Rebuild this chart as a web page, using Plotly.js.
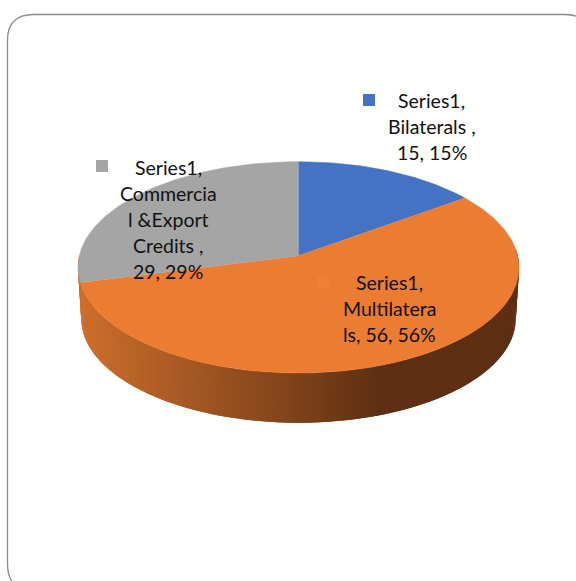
<!DOCTYPE html>
<html>
<head>
<meta charset="utf-8">
<script src="https://cdn.plot.ly/plotly-3.0.1.min.js"></script>
<style>html,body{margin:0;padding:0;background:#fff;overflow:hidden}</style>
</head>
<body>
<div id="chart" style="width:576px;height:581px"></div>
<script>
// Funding sources, in the order the slices run clockwise from twelve o'clock.
const categories = ["Bilaterals", "Multilaterals", "Commercial &Export Credits"];
const values = [15, 56, 29];
const seriesName = "Series1";
const faceColors = ["#4472C4", "#EC7C31", "#A5A5A5"];
const keyColors = ["#4472C4", "#EE8038", "#A5A5A5"];

// Wrapped label text; the value line is appended from the data below.
const wrappedNames = [["Bilaterals ,"], ["Multilatera"], ["Commercia", "l &Export", "Credits ,"]];
const valuePrefix = ["", "ls, ", ""];

const labelCentre = [[431.5, 100.5], [389, 282.5], [168, 167]];
const keyCentre = [[369, 100], [323, 282], [102, 166]];

// Perspective disc: apex position, half axes and foreshortening.
const disc = {cx: 298.5, cy: 255.7, a: 219.2, b: 104.4, k: 0.1105};
const wall = {scale: 0.985, drop: 51.4, from: [80, "#CB6E2C"], to: [375, "#5E2F12"]};

const total = values.reduce((s, v) => s + v, 0);

function project(deg, scale, drop) {
  const t = deg * Math.PI / 180, u = Math.sin(t), v = Math.cos(t), w = 1 + disc.k * v;
  return [disc.cx + scale * disc.a * u / w, disc.cy + drop - scale * disc.b * v / w];
}
function rgb(hex) { return [1, 3, 5].map(i => parseInt(hex.substr(i, 2), 16)); }
function wallColor(x) {
  const f = Math.min(1, Math.max(0, (x - wall.from[0]) / (wall.to[0] - wall.from[0])));
  const a = rgb(wall.from[1]), b = rgb(wall.to[1]);
  return "rgb(" + a.map((c, i) => Math.round(c + (b[i] - c) * f)).join(",") + ")";
}

const traces = [];

// Side wall of the disc: overlapping strips, each painted over the last, so no seams show.
for (let d = 86; d < 270; d += 1) {
  const p = [project(d, 1, 0), project(d + 2, 1, 0), project(d + 2, wall.scale, wall.drop), project(d, wall.scale, wall.drop)];
  const col = wallColor(p[1][0]);
  traces.push({
    type: "scatter", mode: "lines", x: p.map(q => q[0]), y: p.map(q => q[1]),
    fill: "toself", fillcolor: col, line: {width: 0}, hoverinfo: "skip", showlegend: false
  });
}

// Top faces of the slices.
let running = 0;
values.forEach((val, i) => {
  const start = running / total * 360, end = (running + val) / total * 360;
  running += val;
  const xs = [disc.cx], ys = [disc.cy];
  for (let d = start; d <= end + 1e-6; d += (end - start) / Math.ceil(end - start)) {
    const q = project(d, 1, 0);
    xs.push(q[0]); ys.push(q[1]);
  }
  traces.push({
    type: "scatter", mode: "lines", x: xs, y: ys, fill: "toself",
    fillcolor: faceColors[i], line: {color: faceColors[i], width: 0.5},
    name: categories[i], hoverinfo: "name", showlegend: false
  });
});

// Legend keys that sit beside each data label.
traces.push({
  type: "scatter", mode: "markers",
  x: keyCentre.map(k => k[0]), y: keyCentre.map(k => k[1]),
  marker: {symbol: "square", size: 12, color: keyColors}, hoverinfo: "skip", showlegend: false
});

// Data labels, one annotation per wrapped line for the tight leading.
const annotations = [];
values.forEach((val, i) => {
  const pct = Math.round(val / total * 100);
  const lines = [seriesName + ","].concat(wrappedNames[i], [valuePrefix[i] + val + ", " + pct + "%"]);
  lines.forEach((text, n) => {
    annotations.push({
      text, x: labelCentre[i][0], y: labelCentre[i][1] + n * 26, xref: "x", yref: "y",
      xanchor: "center", yanchor: "middle", showarrow: false,
      font: {family: "Lato, 'Open Sans', sans-serif", size: 19.5, color: "#111111"}
    });
  });
});

// Rounded card behind the chart; it runs past the right and bottom edges.
const L = 7.5, T = 14.5, R = 591, B = 590, r = 26;
const card = `M${L + r},${T} L${R - r},${T} Q${R},${T} ${R},${T + r} L${R},${B - r} Q${R},${B} ${R - r},${B} L${L + r},${B} Q${L},${B} ${L},${B - r} L${L},${T + r} Q${L},${T} ${L + r},${T} Z`;

const hidden = {visible: false, fixedrange: true};
Plotly.newPlot("chart", traces, {
  width: 576, height: 581,
  margin: {l: 0, r: 0, t: 0, b: 0},
  paper_bgcolor: "#ffffff", plot_bgcolor: "#ffffff",
  xaxis: Object.assign({range: [0, 576]}, hidden),
  yaxis: Object.assign({range: [581, 0]}, hidden),
  showlegend: false,
  annotations,
  shapes: [{type: "path", path: card, xref: "x", yref: "y", layer: "below", line: {color: "#8C8C8C", width: 1.3}}]
}, {displayModeBar: false, staticPlot: true});
</script>
</body>
</html>
